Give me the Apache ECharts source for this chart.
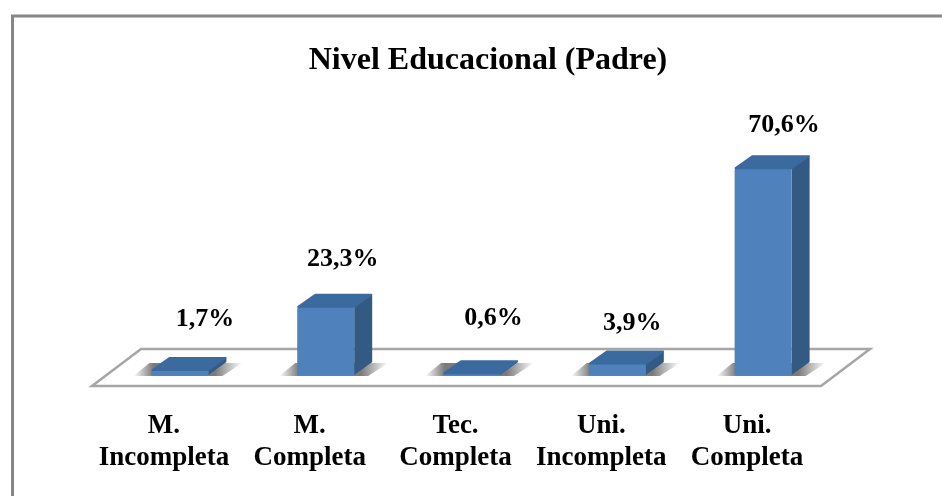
<!DOCTYPE html>
<html lang="es">
  <head>
    <meta charset="UTF-8" />
    <title>Nivel Educacional (Padre)</title>
    <script src="https://cdn.jsdelivr.net/npm/echarts@6/dist/echarts.min.js"></script>
    <style>
      html, body { margin: 0; padding: 0; background: #fff; }
    </style>
  </head>
  <body>
    <div id="main" style="width: 942px; height: 496px"></div>

    <script>
      const categories = ["M.\nIncompleta", "M.\nCompleta", "Tec.\nCompleta", "Uni.\nIncompleta", "Uni.\nCompleta"];
      const values = [1.7, 23.3, 0.6, 3.9, 70.6];
      // hand-placed labels in the original: [dx, dy] from the top of each bar
      const labelNudge = [[25, -51], [17, -47], [22, -55], [15, -40], [21, -43]];

      const depthX = 18;
      const depthY = -13;
      const barW = 57;
      const fontFamily = '"Liberation Serif", "Times New Roman", serif';

      const myEchart = echarts.init(document.getElementById("main"));

      function renderFloor(params, api) {
        const g = params.coordSys;
        const bottom = g.y + g.height;
        const pts = [
          [g.x - 15, bottom + 11],
          [g.x + g.width - 15, bottom + 11],
          [g.x + g.width + 34, bottom - 26],
          [g.x + 34, bottom - 26],
        ];
        return {
          type: "polygon",
          shape: { points: pts },
          style: { fill: "#fff", stroke: "#a6a6a6", lineWidth: 2.5 },
        };
      }

      function renderBar(params, api) {
        const base = api.coord([api.value(0), 0]);
        const top = api.coord([api.value(0), api.value(1)]);
        const l = base[0] - barW / 2;
        const r = base[0] + barW / 2;
        const shadow = {
          type: "polygon",
          shape: {
            points: [
              [l - 18, base[1] + 1],
              [r + 14, base[1] + 1],
              [r + depthX + 16, base[1] + depthY + 1],
              [l - 2, base[1] + depthY + 1],
            ],
          },
          style: {
            fill: new echarts.graphic.LinearGradient(0, 0, 1, 0, [
              { offset: 0, color: "rgba(90,90,90,0)" },
              { offset: 0.18, color: "rgba(90,90,90,0.8)" },
              { offset: 0.75, color: "rgba(90,90,90,0.8)" },
              { offset: 1, color: "rgba(90,90,90,0)" },
            ]),
          },
        };
        const front = {
          type: "rect",
          shape: { x: l, y: top[1], width: barW, height: base[1] - top[1], r: [2, 2, 0, 0] },
          style: { fill: "#4f81bd" },
        };
        const side = {
          type: "polygon",
          shape: {
            points: [
              [r, top[1]],
              [r + depthX, top[1] + depthY],
              [r + depthX, base[1] + depthY],
              [r, base[1]],
            ],
          },
          style: { fill: "#325a83" },
        };
        const cap = {
          type: "polygon",
          shape: {
            points: [
              [l + 1, top[1]],
              [l + depthX, top[1] + depthY + 1],
              [r + depthX - 1, top[1] + depthY + 1],
              [r, top[1]],
            ],
          },
          style: { fill: "#3b6a9e", stroke: "#3b6a9e", lineWidth: 2, lineJoin: "round" },
        };
        const nudge = labelNudge[params.dataIndex];
        const label = {
          type: "text",
          style: {
            x: base[0] + nudge[0],
            y: top[1] + nudge[1],
            text: api.value(1).toFixed(1).replace(".", ",") + "%",
            font: "bold 26px " + fontFamily,
            fill: "#000",
            align: "center",
            verticalAlign: "middle",
          },
        };
        return { type: "group", children: [shadow, side, front, cap, label] };
      }

      const options = {
        backgroundColor: "#fff",
        animation: false,
        title: {
          text: "Nivel Educacional (Padre)",
          left: 483,
          top: 40,
          textAlign: "center",
          textStyle: { fontFamily, fontWeight: "bold", fontSize: 32, color: "#000" },
        },
        // grid edges follow the category bands, 100 units tall
        grid: { left: 107, right: 106, top: 82, bottom: 121 },
        xAxis: {
          type: "category",
          data: categories,
          axisLine: { show: false },
          axisTick: { show: false },
          axisLabel: {
            margin: 35,
            interval: 0,
            fontFamily,
            fontWeight: "bold",
            fontSize: 27,
            lineHeight: 32,
            padding: [0, 32, 0, 0],
            color: "#000",
          },
        },
        yAxis: { type: "value", min: 0, max: 100, show: false },
        graphic: [
          {
            type: "rect",
            silent: true,
            shape: { x: 12.5, y: 16, width: 960, height: 600 },
            style: { fill: "none", stroke: "#868686", lineWidth: 3 },
          },
        ],
        series: [
          {
            type: "custom",
            name: "floor",
            silent: true,
            data: [[0, 0]],
            renderItem: renderFloor,
            z: 1,
          },
          {
            type: "custom",
            name: "Nivel Educacional",
            data: values.map((v, i) => [i, v]),
            encode: { x: 0, y: 1 },
            renderItem: renderBar,
            z: 2,
          },
        ],
      };

      myEchart.setOption(options);
    </script>
  </body>
</html>
